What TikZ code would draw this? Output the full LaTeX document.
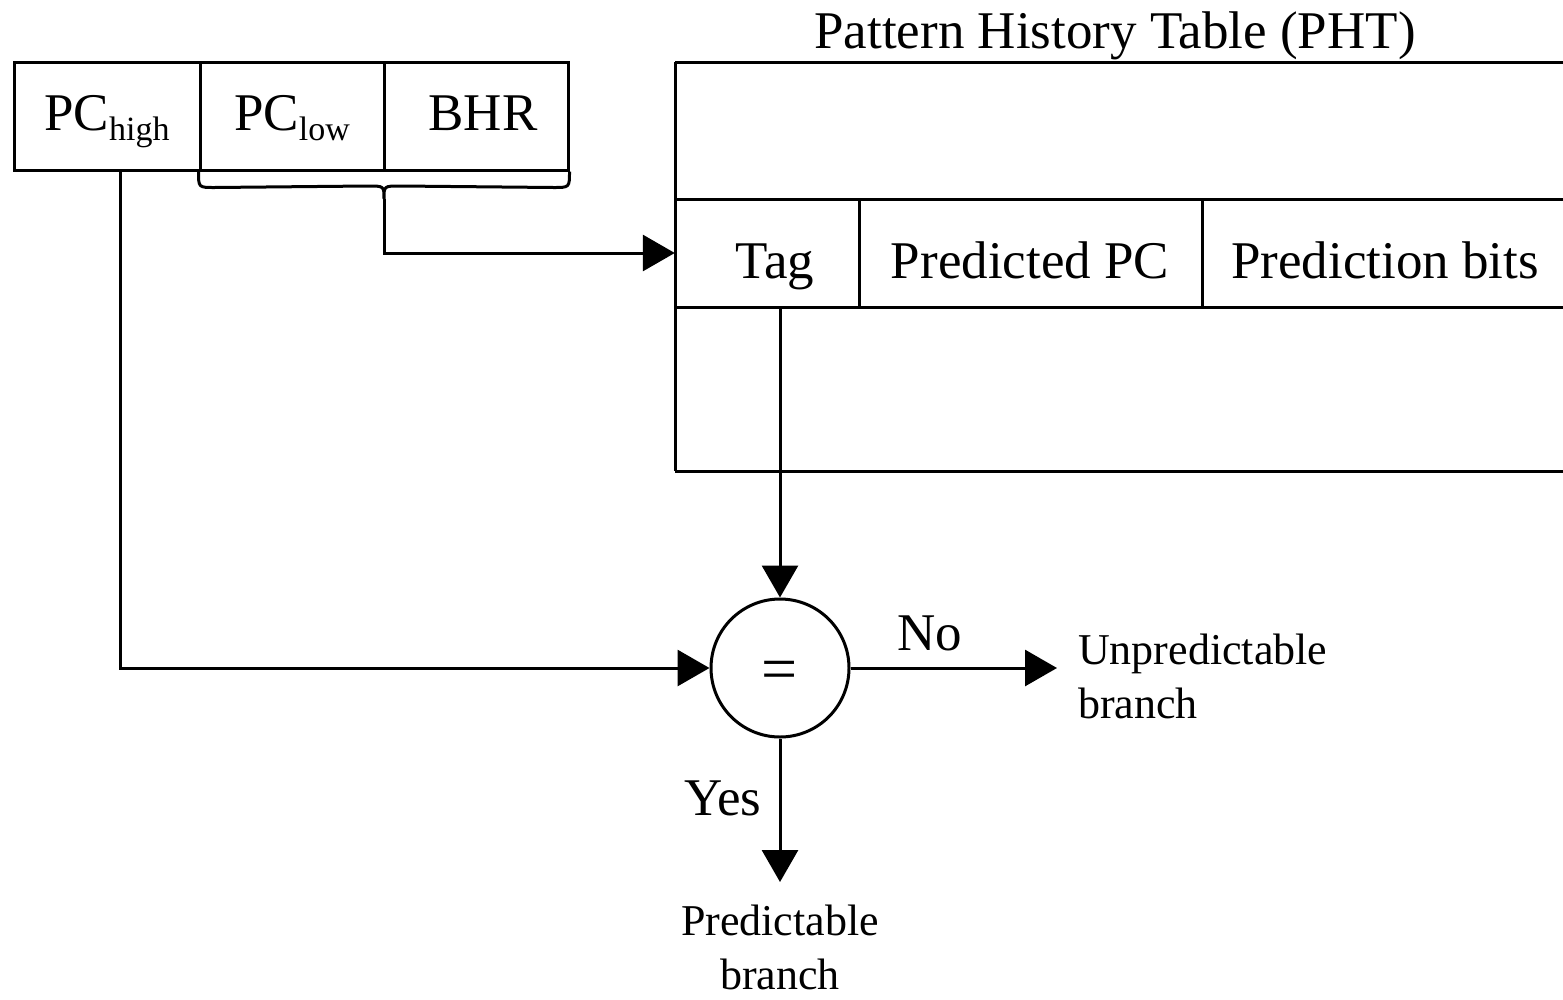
\documentclass[tikz,border=0pt]{standalone}
\usepackage{fontspec}
\setmainfont{Liberation Serif}
\usetikzlibrary{arrows.meta,calc}

\tikzset{
  wire/.style={line width=3pt},
  arrowwire/.style={wire,-{Triangle[length=32pt,width=36pt]}},
  field/.style={draw,line width=3pt,minimum height=108pt,inner sep=0pt,
                text height=28pt,text depth=0pt,
                font=\fontsize{53}{60}\selectfont},
  cell/.style={minimum height=108pt,inner sep=0pt,text height=50pt,text depth=0pt,
               font=\fontsize{53}{60}\selectfont},
  big/.style={inner sep=0pt,font=\fontsize{53}{60}\selectfont},
  small/.style={inner sep=0pt,font=\fontsize{44}{54}\selectfont},
}

\begin{document}
\begin{tikzpicture}[x=1pt,y=-1pt]
\useasboundingbox (0,0) rectangle (1563,999);

% address register fields
\node[field,minimum width=186pt] (pchigh) at (107,116)
  {PC\raisebox{-10pt}{\fontsize{34}{36}\selectfont high}};
\node[field,minimum width=184pt] (pclow) at (292,116)
  {PC\raisebox{-10pt}{\fontsize{34}{36}\selectfont low}};
\node[field,minimum width=184pt] (bhr) at (476,116) {\hspace{14pt}BHR};

% brace under PC_low and BHR
\coordinate (brtip) at (384,199);
\draw[wire] (pclow.south west) .. controls ($(pclow.south west)+(0,16)$) .. ($(pclow.south west)+(16,16)$)
  -- ($(brtip)+(-16,-13)$) .. controls ($(brtip)+(0,-13)$) .. (brtip)
  .. controls ($(brtip)+(0,-13)$) .. ($(brtip)+(16,-13)$)
  -- ($(bhr.south east)+(-16,16)$) .. controls ($(bhr.south east)+(0,16)$) .. (bhr.south east);

% pattern history table
\node[big,anchor=base] (title) at (1115,48) {Pattern History Table (PHT)};
\draw[wire] (675,62) -- (1563,62);
\draw[wire] (675,199) -- (1563,199);
\draw[wire] (675,307) -- (1563,307);
\draw[wire] (675,471) -- (1563,471);
\draw[wire] (675,62) -- (675,471);
\draw[wire] (859,199) -- (859,307);
\draw[wire] (1202,199) -- (1202,307);
\node[cell,minimum width=184pt] (tag) at (767,253) {\hspace{16pt}Tag};
\node[cell,minimum width=343pt] (predpc) at (1030,253) {Predicted PC};
\node[cell,minimum width=361pt] (predbits) at (1385,253) {Prediction bits};

% comparator
\node[circle,draw,line width=3pt,minimum size=138pt,inner sep=0pt,
      text height=44pt,text depth=0pt,
      font=\fontsize{64}{70}\selectfont] (cmp) at (780,668) {=};

% connections
\draw[arrowwire] (brtip) |- (tag.west);
\draw[arrowwire] (cmp.north |- tag.south) -- (cmp.north);
\draw[arrowwire] ([xshift=13pt]pchigh.south) |- (cmp.west);

\coordinate (noend) at (1057,668);
\coordinate (yesend) at (780,882);
\draw[arrowwire] (cmp.east) -- (noend);
\draw[arrowwire] (cmp.south) -- (yesend);

\node[big,anchor=base] (nolbl) at (930,650) {No};
\node[big,anchor=base] (yeslbl) at (723,815) {Yes};

\node[small,align=left,anchor=north west] (unpred) at (1078,634) {Unpredictable\\branch};
\node[small,align=center,anchor=north] (pred) at (780,905) {Predictable\\branch};
\end{tikzpicture}
\end{document}
